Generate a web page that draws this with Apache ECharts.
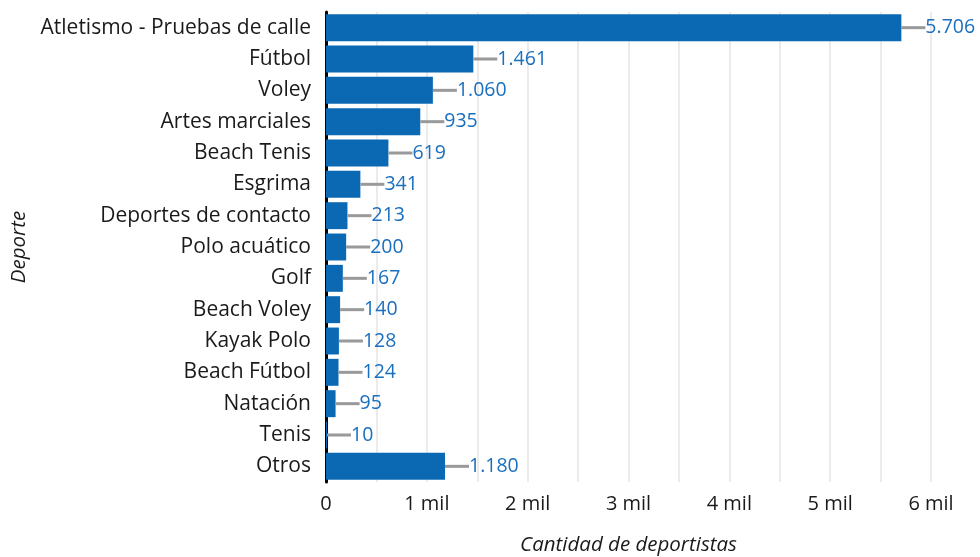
<!DOCTYPE html>
<html>
<head>
<meta charset="utf-8">
<script src="https://cdn.jsdelivr.net/npm/echarts@6/dist/echarts.min.js"></script>
<style>
html,body{margin:0;padding:0;background:#fff;}
#chart{width:980px;height:557px;}
</style>
</head>
<body>
<div id="chart"></div>
<script>
var deportes = ['Atletismo - Pruebas de calle', 'Fútbol', 'Voley', 'Artes marciales', 'Beach Tenis', 'Esgrima',
	'Deportes de contacto', 'Polo acuático', 'Golf', 'Beach Voley', 'Kayak Polo', 'Beach Fútbol', 'Natación', 'Tenis', 'Otros'];
var cantidad = [5706, 1461, 1060, 935, 619, 341, 213, 200, 167, 140, 128, 124, 95, 10, 1180];

var fuente = '"Open Sans", "Noto Sans", sans-serif';

function miles(v) {
	return String(v).replace(/\B(?=(\d{3})+(?!\d))/g, '.');
}

var puntos = [];
for (var i = 0; i < cantidad.length; i++) {
	puntos.push([cantidad[i], i]);
}

var myChart = echarts.init(document.getElementById('chart'));
var option = {
	backgroundColor: '#ffffff',
	animation: false,
	grid: {
		left: 326,
		right: 49,
		top: 12,
		bottom: 75,
		containLabel: false,
		outerBoundsMode: 'none'
	},
	xAxis: {
		type: 'value',
		min: 0,
		max: 6000,
		interval: 500,
		name: 'Cantidad de deportistas',
		nameLocation: 'middle',
		nameGap: 53,
		nameTextStyle: { fontFamily: fuente, fontSize: 20.5, fontStyle: 'italic', color: '#1a1a1a' },
		axisLine: { show: false },
		axisTick: { show: false },
		axisLabel: {
			fontFamily: fuente, fontSize: 20, color: '#1a1a1a', margin: 12,
			formatter: function(v) {
				if (v % 1000 != 0) return '';
				return v == 0 ? '0' : (v / 1000) + ' mil';
			}
		},
		splitLine: { show: true, lineStyle: { color: '#ebebeb', width: 2 } }
	},
	yAxis: {
		type: 'category',
		inverse: true,
		data: deportes,
		name: 'Deporte',
		nameLocation: 'middle',
		nameGap: 295,
		nameTextStyle: { fontFamily: fuente, fontSize: 20.5, fontStyle: 'italic', color: '#1a1a1a' },
		axisLine: { show: true, lineStyle: { color: '#000', width: 3 } },
		axisTick: { show: false },
		axisLabel: { fontFamily: fuente, fontSize: 21, color: '#1a1a1a', margin: 15 }
	},
	series: [{
		type: 'bar',
		data: cantidad,
		barCategoryGap: '14%',
		itemStyle: { color: '#0b69b4' },
		z: 2
	}, {
		type: 'custom',
		data: puntos,
		encode: { x: 0, y: 1 },
		z: 3,
		renderItem: function(params, api) {
			var p = api.coord([api.value(0), api.value(1)]);
			return {
				type: 'group',
				children: [{
					type: 'line',
					shape: { x1: p[0], y1: p[1], x2: p[0] + 24, y2: p[1] },
					style: { stroke: '#999999', lineWidth: 3 }
				}, {
					type: 'text',
					style: {
						x: p[0] + 24,
						y: p[1],
						text: miles(api.value(0)),
						fill: '#1a6fbf',
						font: '19.5px ' + fuente,
						textAlign: 'left',
						textVerticalAlign: 'middle'
					}
				}]
			};
		}
	}]
};
myChart.setOption(option);

window.onresize = function() {
	myChart.resize();
};
</script>
</body>
</html>
